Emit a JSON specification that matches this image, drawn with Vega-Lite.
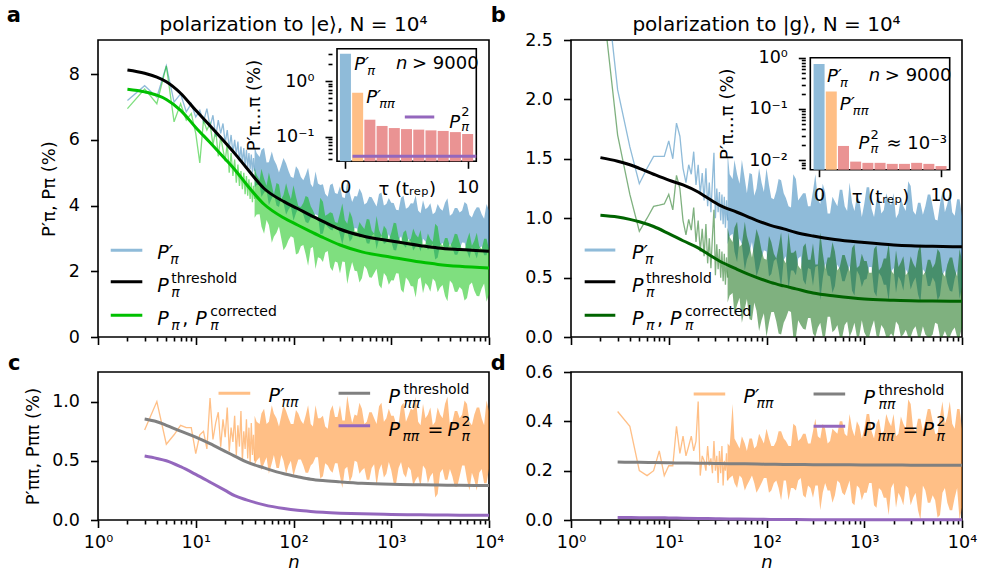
{
"$schema":"https://vega.github.io/schema/vega-lite/v6.json",
"padding":{"left":6,"top":4,"right":5,"bottom":2},
"background":"white",
"config":{
 "font":"DejaVu Sans",
 "view":{"stroke":"black","strokeWidth":1.6},
 "axis":{"grid":false,"domain":false,"tickColor":"black","tickWidth":1.6,"tickSize":7.5,"labelColor":"black","labelFontSize":17.5,"titleColor":"black","titleFontSize":18,"titleFontWeight":"normal","labelOverlap":false,"labelFlush":false,"labelBound":false},
 "axisY":{"labelPadding":11},
 "axisX":{"labelPadding":6},
 "text":{"baseline":"alphabetic","align":"left","color":"black"}
},
"datasets":{
"sparse":[
{"n":2,"aB":7.2,"aG":6.95,"bB":3.4,"bG":3.0},
{"n":3,"aB":7.65,"aG":7.55,"bB":2.08,"bG":1.7,"c":0.76,"d":0.44},
{"n":4,"aB":7.3,"aG":7.1,"bB":1.6,"bG":1.2,"c":1.0,"d":0.38},
{"n":5,"aB":8.25,"aG":8.25,"bB":1.29,"bG":0.89,"c":0.64,"d":0.2},
{"n":6,"aB":7.15,"aG":6.55,"bB":1.42,"bG":1.0,"c":0.72,"d":0.18},
{"n":7,"aB":7.4,"aG":7.1,"bB":1.52,"bG":1.1,"c":0.8,"d":0.2},
{"n":8,"aB":6.85,"aG":6.6,"bB":1.52,"bG":1.11,"c":0.78,"d":0.28},
{"n":9,"aB":7.1,"aG":6.8,"bB":1.52,"bG":1.12,"c":0.78,"d":0.18},
{"n":10,"aB":6.7,"aG":6.2,"bB":1.65,"bG":1.2,"c":0.56,"d":0.22},
{"n":11,"aB":6.9,"aG":5.3,"bB":1.5,"bG":1.07,"c":0.72,"d":0.22},
{"n":12,"aB":6.55,"aG":6.6,"bB":1.8,"bG":1.36,"c":0.75,"d":0.38},
{"n":13,"aB":6.95,"aG":6.3,"bB":1.69,"bG":1.25,"c":0.6,"d":0.27},
{"n":14,"aB":6.4,"aG":6.5,"bB":1.42,"bG":0.98,"c":1.03,"d":0.34},
{"n":15,"aB":6.75,"aG":5.85,"bB":1.3,"bG":0.86,"c":0.68,"d":0.26},
{"n":16,"aB":6.1,"aG":6.3,"bB":1.45,"bG":0.99,"c":0.82,"d":0.3},
{"n":17,"aB":6.6,"aG":5.5,"bB":1.37,"bG":0.9,"c":0.91,"d":0.34},
{"n":18,"aB":6.2,"aG":6.1,"bB":1.56,"bG":1.09,"c":0.62,"d":0.28},
{"n":19,"aB":6.5,"aG":5.7,"bB":1.28,"bG":0.8,"c":0.85,"d":0.32},
{"n":20,"aB":5.9,"aG":5.35,"bB":1.45,"bG":0.98,"c":0.7,"d":0.48},
{"n":21,"aB":6.3,"aG":5.9,"bB":1.2,"bG":0.72,"c":0.95,"d":0.18},
{"n":22,"aB":5.75,"aG":5.0,"bB":1.38,"bG":0.91,"c":0.58,"d":0.26},
{"n":23,"aB":6.15,"aG":5.6,"bB":1.15,"bG":0.68,"c":0.78,"d":0.24},
{"n":24,"aB":5.6,"aG":4.9,"bB":1.42,"bG":0.95,"c":0.66,"d":0.2},
{"n":25,"aB":6.0,"aG":5.4,"bB":1.1,"bG":0.62,"c":0.88,"d":0.3},
{"n":26,"aB":5.55,"aG":4.7,"bB":1.3,"bG":0.83,"c":0.55,"d":0.22},
{"n":27,"aB":5.95,"aG":5.25,"bB":1.05,"bG":0.58,"c":0.8,"d":0.25},
{"n":28,"aB":5.35,"aG":4.6,"bB":1.32,"bG":0.85,"c":0.62,"d":0.19},
{"n":29,"aB":5.8,"aG":5.05,"bB":1.55,"bG":1.07,"c":0.92,"d":0.32},
{"n":30,"aB":5.3,"aG":4.5,"bB":1.0,"bG":0.52,"c":0.5,"d":0.2},
{"n":31,"aB":5.75,"aG":5.0,"bB":1.25,"bG":0.78,"c":0.75,"d":0.26},
{"n":32,"aB":5.2,"aG":4.35,"bB":1.05,"bG":0.57,"c":0.6,"d":0.15},
{"n":33,"aB":5.7,"aG":4.9,"bB":1.22,"bG":0.74,"c":0.85,"d":0.28},
{"n":34,"aB":5.15,"aG":4.3,"bB":0.98,"bG":0.5,"c":0.52,"d":0.19},
{"n":35,"aB":5.6,"aG":4.8,"bB":1.2,"bG":0.72,"c":0.78,"d":0.3},
{"n":36,"aB":5.1,"aG":4.2,"bB":0.95,"bG":0.47,"c":0.48,"d":0.14},
{"n":37,"aB":5.55,"aG":4.7,"bB":1.18,"bG":0.7,"c":0.82,"d":0.24},
{"n":38,"aB":5.0,"aG":4.1,"bB":0.92,"bG":0.44,"c":0.55,"d":0.2},
{"n":39,"aB":5.45,"aG":4.6,"bB":1.15,"bG":0.67,"c":0.72,"d":0.27},
{"n":40,"aB":5.05,"aG":4.2,"bB":0.98,"bG":0.5,"c":0.5,"d":0.16}
],
"band":[
{"n":40,"aBl":4.55,"aBh":5.79,"aGl":3.63,"aGh":5.15,"bBl":0.78,"bBh":1.55,"bGl":0.29,"bGh":0.92,"cl":0.46,"ch":0.88,"dl":0.16,"dh":0.31},
{"n":45,"aBl":4.63,"aBh":5.48,"aGl":3.74,"aGh":4.78,"bBl":0.87,"bBh":1.33,"bGl":0.37,"bGh":0.8,"cl":0.53,"ch":0.81,"dl":0.18,"dh":0.47},
{"n":50,"aBl":4.39,"aBh":5.76,"aGl":3.14,"aGh":4.82,"bBl":0.63,"bBh":1.37,"bGl":0.27,"bGh":0.97,"cl":0.48,"ch":0.94,"dl":0.13,"dh":0.31},
{"n":56,"aBl":4.01,"aBh":5.32,"aGl":3.41,"aGh":5.01,"bBl":0.78,"bBh":1.49,"bGl":0.12,"bGh":0.78,"cl":0.39,"ch":0.83,"dl":0.17,"dh":0.34},
{"n":63,"aBl":4.36,"aBh":5.4,"aGl":3.05,"aGh":4.33,"bBl":0.65,"bBh":1.21,"bGl":0.32,"bGh":0.85,"cl":0.55,"ch":0.9,"dl":0.14,"dh":0.28},
{"n":71,"aBl":3.96,"aBh":5.01,"aGl":3.36,"aGh":4.64,"bBl":0.8,"bBh":1.37,"bGl":0.14,"bGh":0.67,"cl":0.44,"ch":0.79,"dl":0.18,"dh":0.33},
{"n":79,"aBl":4.08,"aBh":5.45,"aGl":2.64,"aGh":4.32,"bBl":0.51,"bBh":1.25,"bGl":0.22,"bGh":0.91,"cl":0.5,"ch":0.97,"dl":0.11,"dh":0.3},
{"n":89,"aBl":3.88,"aBh":5.05,"aGl":2.95,"aGh":4.39,"bBl":0.67,"bBh":1.3,"bGl":0.14,"bGh":0.73,"cl":0.46,"ch":0.86,"dl":0.15,"dh":0.33},
{"n":100,"aBl":3.54,"aBh":4.84,"aGl":3.02,"aGh":4.62,"bBl":0.72,"bBh":1.42,"bGl":0.0,"bGh":0.65,"cl":0.37,"ch":0.81,"dl":0.17,"dh":0.37},
{"n":112,"aBl":3.92,"aBh":5.1,"aGl":2.55,"aGh":3.99,"bBl":0.53,"bBh":1.17,"bGl":0.21,"bGh":0.8,"cl":0.51,"ch":0.9,"dl":0.12,"dh":0.3},
{"n":126,"aBl":3.72,"aBh":4.77,"aGl":2.8,"aGh":4.08,"bBl":0.66,"bBh":1.23,"bGl":0.13,"bGh":0.66,"cl":0.46,"ch":0.81,"dl":0.16,"dh":0.32},
{"n":141,"aBl":3.46,"aBh":5.15,"aGl":2.17,"aGh":4.25,"bBl":0.41,"bBh":1.32,"bGl":0.02,"bGh":0.88,"cl":0.4,"ch":0.97,"dl":0.08,"dh":0.36},
{"n":158,"aBl":3.65,"aBh":4.56,"aGl":2.74,"aGh":3.86,"bBl":0.68,"bBh":1.17,"bGl":0.16,"bGh":0.62,"cl":0.48,"ch":0.79,"dl":0.16,"dh":0.32},
{"n":178,"aBl":3.69,"aBh":4.67,"aGl":2.43,"aGh":3.63,"bBl":0.56,"bBh":1.09,"bGl":0.21,"bGh":0.71,"cl":0.53,"ch":0.86,"dl":0.13,"dh":0.3},
{"n":200,"aBl":3.15,"aBh":4.65,"aGl":2.28,"aGh":4.12,"bBl":0.52,"bBh":1.33,"bGl":0.0,"bGh":0.73,"cl":0.37,"ch":0.88,"dl":0.12,"dh":0.38},
{"n":224,"aBl":3.35,"aBh":4.27,"aGl":2.62,"aGh":3.74,"bBl":0.68,"bBh":1.18,"bGl":0.1,"bGh":0.57,"cl":0.46,"ch":0.77,"dl":0.17,"dh":0.33},
{"n":251,"aBl":3.24,"aBh":4.67,"aGl":2.01,"aGh":3.77,"bBl":0.44,"bBh":1.21,"bGl":0.06,"bGh":0.79,"cl":0.4,"ch":0.97,"dl":0.09,"dh":0.35},
{"n":282,"aBl":3.37,"aBh":4.35,"aGl":2.27,"aGh":3.47,"bBl":0.57,"bBh":1.1,"bGl":0.16,"bGh":0.65,"cl":0.48,"ch":0.87,"dl":0.13,"dh":0.31},
{"n":316,"aBl":2.81,"aBh":4.25,"aGl":2.3,"aGh":4.06,"bBl":0.59,"bBh":1.37,"bGl":0.0,"bGh":0.61,"cl":0.27,"ch":0.84,"dl":0.14,"dh":0.41},
{"n":355,"aBl":3.24,"aBh":4.74,"aGl":1.61,"aGh":3.45,"bBl":0.31,"bBh":1.12,"bGl":0.12,"bGh":0.88,"cl":0.45,"ch":1.05,"dl":0.04,"dh":0.33},
{"n":398,"aBl":3.0,"aBh":4.11,"aGl":2.28,"aGh":3.64,"bBl":0.62,"bBh":1.22,"bGl":0.01,"bGh":0.57,"cl":0.37,"ch":0.82,"dl":0.15,"dh":0.37},
{"n":447,"aBl":3.3,"aBh":4.28,"aGl":2.0,"aGh":3.2,"bBl":0.51,"bBh":1.04,"bGl":0.17,"bGh":0.67,"cl":0.49,"ch":0.88,"dl":0.12,"dh":0.32},
{"n":501,"aBl":3.06,"aBh":4.37,"aGl":1.79,"aGh":3.39,"bBl":0.43,"bBh":1.14,"bGl":0.06,"bGh":0.72,"cl":0.42,"ch":0.94,"dl":0.1,"dh":0.36},
{"n":562,"aBl":2.85,"aBh":4.09,"aGl":2.07,"aGh":3.59,"bBl":0.57,"bBh":1.24,"bGl":0.0,"bGh":0.59,"cl":0.34,"ch":0.83,"dl":0.15,"dh":0.4},
{"n":631,"aBl":3.08,"aBh":4.25,"aGl":1.8,"aGh":3.24,"bBl":0.47,"bBh":1.1,"bGl":0.1,"bGh":0.69,"cl":0.44,"ch":0.91,"dl":0.1,"dh":0.35},
{"n":708,"aBl":2.67,"aBh":3.97,"aGl":2.08,"aGh":3.68,"bBl":0.6,"bBh":1.3,"bGl":0.0,"bGh":0.55,"cl":0.29,"ch":0.81,"dl":0.16,"dh":0.43},
{"n":794,"aBl":3.09,"aBh":4.4,"aGl":1.48,"aGh":3.08,"bBl":0.35,"bBh":1.06,"bGl":0.12,"bGh":0.78,"cl":0.47,"ch":0.99,"dl":0.06,"dh":0.34},
{"n":891,"aBl":2.88,"aBh":4.05,"aGl":1.85,"aGh":3.29,"bBl":0.52,"bBh":1.15,"bGl":0.01,"bGh":0.6,"cl":0.39,"ch":0.86,"dl":0.13,"dh":0.38},
{"n":1000,"aBl":2.91,"aBh":4.09,"aGl":1.73,"aGh":3.17,"bBl":0.48,"bBh":1.12,"bGl":0.04,"bGh":0.64,"cl":0.42,"ch":0.88,"dl":0.11,"dh":0.37},
{"n":1122,"aBl":2.63,"aBh":3.87,"aGl":1.94,"aGh":3.46,"bBl":0.59,"bBh":1.26,"bGl":0.0,"bGh":0.54,"cl":0.31,"ch":0.81,"dl":0.15,"dh":0.43},
{"n":1259,"aBl":3.07,"aBh":4.24,"aGl":1.44,"aGh":2.88,"bBl":0.38,"bBh":1.01,"bGl":0.14,"bGh":0.74,"cl":0.49,"ch":0.96,"dl":0.06,"dh":0.33},
{"n":1413,"aBl":2.72,"aBh":3.9,"aGl":1.81,"aGh":3.25,"bBl":0.54,"bBh":1.18,"bGl":0.0,"bGh":0.56,"cl":0.36,"ch":0.83,"dl":0.13,"dh":0.41},
{"n":1585,"aBl":2.9,"aBh":4.07,"aGl":1.55,"aGh":2.99,"bBl":0.44,"bBh":1.07,"bGl":0.07,"bGh":0.66,"cl":0.42,"ch":0.94,"dl":0.09,"dh":0.36},
{"n":1778,"aBl":2.75,"aBh":4.31,"aGl":1.2,"aGh":3.12,"bBl":0.3,"bBh":1.14,"bGl":0.0,"bGh":0.79,"cl":0.34,"ch":1.04,"dl":0.02,"dh":0.4},
{"n":1995,"aBl":2.6,"aBh":3.77,"aGl":1.82,"aGh":3.26,"bBl":0.58,"bBh":1.21,"bGl":0.0,"bGh":0.53,"cl":0.28,"ch":0.8,"dl":0.15,"dh":0.43},
{"n":2239,"aBl":2.91,"aBh":3.89,"aGl":1.64,"aGh":2.84,"bBl":0.51,"bBh":1.04,"bGl":0.1,"bGh":0.59,"cl":0.43,"ch":0.86,"dl":0.11,"dh":0.35},
{"n":2512,"aBl":2.76,"aBh":4.07,"aGl":1.38,"aGh":2.98,"bBl":0.39,"bBh":1.1,"bGl":0.02,"bGh":0.68,"cl":0.37,"ch":0.95,"dl":0.06,"dh":0.39},
{"n":2818,"aBl":2.36,"aBh":3.8,"aGl":1.69,"aGh":3.45,"bBl":0.53,"bBh":1.31,"bGl":0.0,"bGh":0.55,"cl":0.19,"ch":0.83,"dl":0.13,"dh":0.49},
{"n":3162,"aBl":2.8,"aBh":3.91,"aGl":1.51,"aGh":2.87,"bBl":0.46,"bBh":1.06,"bGl":0.06,"bGh":0.62,"cl":0.4,"ch":0.89,"dl":0.09,"dh":0.37},
{"n":3548,"aBl":2.66,"aBh":4.09,"aGl":1.25,"aGh":3.01,"bBl":0.36,"bBh":1.13,"bGl":0.0,"bGh":0.72,"cl":0.34,"ch":0.98,"dl":0.04,"dh":0.41},
{"n":3981,"aBl":2.84,"aBh":3.69,"aGl":1.72,"aGh":2.76,"bBl":0.57,"bBh":1.03,"bGl":0.09,"bGh":0.52,"cl":0.43,"ch":0.8,"dl":0.14,"dh":0.36},
{"n":4467,"aBl":2.5,"aBh":3.93,"aGl":1.38,"aGh":3.14,"bBl":0.43,"bBh":1.2,"bGl":0.0,"bGh":0.65,"cl":0.28,"ch":0.92,"dl":0.07,"dh":0.45},
{"n":5012,"aBl":2.68,"aBh":3.79,"aGl":1.52,"aGh":2.88,"bBl":0.5,"bBh":1.1,"bGl":0.02,"bGh":0.58,"cl":0.37,"ch":0.86,"dl":0.1,"dh":0.4},
{"n":5623,"aBl":2.87,"aBh":4.11,"aGl":1.11,"aGh":2.63,"bBl":0.31,"bBh":0.98,"bGl":0.11,"bGh":0.74,"cl":0.46,"ch":1.01,"dl":0.01,"dh":0.35},
{"n":6310,"aBl":2.4,"aBh":3.71,"aGl":1.58,"aGh":3.18,"bBl":0.52,"bBh":1.23,"bGl":0.0,"bGh":0.54,"cl":0.25,"ch":0.83,"dl":0.11,"dh":0.48},
{"n":7079,"aBl":2.59,"aBh":3.83,"aGl":1.41,"aGh":2.93,"bBl":0.45,"bBh":1.12,"bGl":0.0,"bGh":0.61,"cl":0.34,"ch":0.89,"dl":0.07,"dh":0.42},
{"n":7943,"aBl":2.7,"aBh":3.94,"aGl":1.24,"aGh":2.76,"bBl":0.38,"bBh":1.05,"bGl":0.05,"bGh":0.67,"cl":0.4,"ch":0.95,"dl":0.04,"dh":0.39},
{"n":8913,"aBl":2.49,"aBh":3.6,"aGl":1.63,"aGh":2.99,"bBl":0.56,"bBh":1.16,"bGl":0.0,"bGh":0.51,"cl":0.31,"ch":0.8,"dl":0.13,"dh":0.45},
{"n":10000,"aBl":2.74,"aBh":3.85,"aGl":1.3,"aGh":2.66,"bBl":0.42,"bBh":1.02,"bGl":0.08,"bGh":0.64,"cl":0.43,"ch":0.92,"dl":0.05,"dh":0.37},
{"n":42,"aBl":4.63,"aBh":5.6,"aGl":3.73,"aGh":4.93,"bBl":0.85,"bBh":1.37,"bGl":0.35,"bGh":0.84,"cl":0.5,"ch":0.83,"dl":0.17,"dh":0.3},
{"n":47,"aBl":4.26,"aBh":5.69,"aGl":3.36,"aGh":5.12,"bBl":0.72,"bBh":1.49,"bGl":0.19,"bGh":0.92,"cl":0.42,"ch":0.9,"dl":0.15,"dh":0.33},
{"n":53,"aBl":4.47,"aBh":5.31,"aGl":3.56,"aGh":4.6,"bBl":0.83,"bBh":1.29,"bGl":0.33,"bGh":0.76,"cl":0.53,"ch":0.81,"dl":0.18,"dh":0.29},
{"n":60,"aBl":4.22,"aBh":5.65,"aGl":2.87,"aGh":4.63,"bBl":0.56,"bBh":1.33,"bGl":0.24,"bGh":0.97,"cl":0.48,"ch":0.97,"dl":0.12,"dh":0.31},
{"n":67,"aBl":4.0,"aBh":5.24,"aGl":3.17,"aGh":4.69,"bBl":0.71,"bBh":1.38,"bGl":0.15,"bGh":0.77,"cl":0.44,"ch":0.86,"dl":0.16,"dh":0.33},
{"n":75,"aBl":4.25,"aBh":5.23,"aGl":3.0,"aGh":4.2,"bBl":0.66,"bBh":1.19,"bGl":0.29,"bGh":0.79,"cl":0.55,"ch":0.88,"dl":0.15,"dh":0.29},
{"n":84,"aBl":3.72,"aBh":5.28,"aGl":2.76,"aGh":4.68,"bBl":0.58,"bBh":1.42,"bGl":0.05,"bGh":0.84,"cl":0.39,"ch":0.92,"dl":0.13,"dh":0.35},
{"n":94,"aBl":3.97,"aBh":4.88,"aGl":3.07,"aGh":4.19,"bBl":0.73,"bBh":1.22,"bGl":0.2,"bGh":0.66,"cl":0.5,"ch":0.81,"dl":0.17,"dh":0.31},
{"n":106,"aBl":3.77,"aBh":5.2,"aGl":2.51,"aGh":4.27,"bBl":0.51,"bBh":1.28,"bGl":0.12,"bGh":0.85,"cl":0.45,"ch":0.93,"dl":0.11,"dh":0.33},
{"n":119,"aBl":3.89,"aBh":4.87,"aGl":2.76,"aGh":3.96,"bBl":0.64,"bBh":1.16,"bGl":0.21,"bGh":0.7,"cl":0.51,"ch":0.84,"dl":0.15,"dh":0.3},
{"n":133,"aBl":3.5,"aBh":4.93,"aGl":2.53,"aGh":4.29,"bBl":0.56,"bBh":1.33,"bGl":0.03,"bGh":0.76,"cl":0.4,"ch":0.88,"dl":0.13,"dh":0.36},
{"n":150,"aBl":3.62,"aBh":4.66,"aGl":2.7,"aGh":3.98,"bBl":0.65,"bBh":1.21,"bGl":0.12,"bGh":0.65,"cl":0.46,"ch":0.81,"dl":0.16,"dh":0.33},
{"n":168,"aBl":3.74,"aBh":5.04,"aGl":2.07,"aGh":3.67,"bBl":0.4,"bBh":1.1,"bGl":0.22,"bGh":0.88,"cl":0.53,"ch":0.97,"dl":0.08,"dh":0.3},
{"n":188,"aBl":3.13,"aBh":4.63,"aGl":2.4,"aGh":4.24,"bBl":0.56,"bBh":1.37,"bGl":0.0,"bGh":0.71,"cl":0.35,"ch":0.86,"dl":0.13,"dh":0.39},
{"n":211,"aBl":3.45,"aBh":4.36,"aGl":2.57,"aGh":3.69,"bBl":0.66,"bBh":1.15,"bGl":0.14,"bGh":0.6,"cl":0.48,"ch":0.79,"dl":0.16,"dh":0.32},
{"n":237,"aBl":3.27,"aBh":4.63,"aGl":2.12,"aGh":3.8,"bBl":0.48,"bBh":1.21,"bGl":0.07,"bGh":0.76,"cl":0.42,"ch":0.92,"dl":0.1,"dh":0.35},
{"n":266,"aBl":3.41,"aBh":4.38,"aGl":2.3,"aGh":3.5,"bBl":0.58,"bBh":1.1,"bGl":0.16,"bGh":0.65,"cl":0.48,"ch":0.87,"dl":0.14,"dh":0.31},
{"n":299,"aBl":3.1,"aBh":4.59,"aGl":1.93,"aGh":3.77,"bBl":0.43,"bBh":1.23,"bGl":0.03,"bGh":0.79,"cl":0.37,"ch":0.97,"dl":0.09,"dh":0.36},
{"n":335,"aBl":3.19,"aBh":4.23,"aGl":2.28,"aGh":3.56,"bBl":0.6,"bBh":1.16,"bGl":0.08,"bGh":0.61,"cl":0.43,"ch":0.84,"dl":0.14,"dh":0.34},
{"n":376,"aBl":2.9,"aBh":4.39,"aGl":1.99,"aGh":3.83,"bBl":0.49,"bBh":1.29,"bGl":0.0,"bGh":0.71,"cl":0.32,"ch":0.92,"dl":0.11,"dh":0.39},
{"n":422,"aBl":3.32,"aBh":4.29,"aGl":2.02,"aGh":3.22,"bBl":0.52,"bBh":1.04,"bGl":0.17,"bGh":0.67,"cl":0.5,"ch":0.89,"dl":0.12,"dh":0.31},
{"n":473,"aBl":3.02,"aBh":4.52,"aGl":1.66,"aGh":3.5,"bBl":0.37,"bBh":1.18,"bGl":0.04,"bGh":0.8,"cl":0.39,"ch":0.99,"dl":0.07,"dh":0.37},
{"n":531,"aBl":3.12,"aBh":4.03,"aGl":2.17,"aGh":3.29,"bBl":0.61,"bBh":1.1,"bGl":0.1,"bGh":0.56,"cl":0.44,"ch":0.81,"dl":0.16,"dh":0.35},
{"n":596,"aBl":2.84,"aBh":4.27,"aGl":1.82,"aGh":3.58,"bBl":0.47,"bBh":1.24,"bGl":0.0,"bGh":0.69,"cl":0.34,"ch":0.91,"dl":0.11,"dh":0.4},
{"n":668,"aBl":3.14,"aBh":4.11,"aGl":1.94,"aGh":3.14,"bBl":0.54,"bBh":1.06,"bGl":0.13,"bGh":0.62,"cl":0.47,"ch":0.86,"dl":0.13,"dh":0.34},
{"n":750,"aBl":2.98,"aBh":4.35,"aGl":1.58,"aGh":3.26,"bBl":0.39,"bBh":1.13,"bGl":0.05,"bGh":0.75,"cl":0.42,"ch":0.96,"dl":0.07,"dh":0.37},
{"n":841,"aBl":2.83,"aBh":4.0,"aGl":1.95,"aGh":3.39,"bBl":0.56,"bBh":1.19,"bGl":0.0,"bGh":0.58,"cl":0.36,"ch":0.83,"dl":0.14,"dh":0.4},
{"n":944,"aBl":3.13,"aBh":4.23,"aGl":1.59,"aGh":2.95,"bBl":0.42,"bBh":1.01,"bGl":0.14,"bGh":0.7,"cl":0.49,"ch":0.94,"dl":0.08,"dh":0.33},
{"n":1059,"aBl":2.65,"aBh":4.08,"aGl":1.72,"aGh":3.48,"bBl":0.49,"bBh":1.26,"bGl":0.0,"bGh":0.64,"cl":0.31,"ch":0.88,"dl":0.11,"dh":0.43},
{"n":1189,"aBl":2.95,"aBh":3.86,"aGl":1.93,"aGh":3.05,"bBl":0.59,"bBh":1.08,"bGl":0.08,"bGh":0.54,"cl":0.44,"ch":0.81,"dl":0.15,"dh":0.36},
{"n":1334,"aBl":2.8,"aBh":4.3,"aGl":1.35,"aGh":3.19,"bBl":0.34,"bBh":1.15,"bGl":0.01,"bGh":0.77,"cl":0.39,"ch":0.99,"dl":0.05,"dh":0.39},
{"n":1496,"aBl":2.98,"aBh":3.95,"aGl":1.72,"aGh":2.92,"bBl":0.51,"bBh":1.04,"bGl":0.1,"bGh":0.59,"cl":0.45,"ch":0.88,"dl":0.12,"dh":0.35},
{"n":1679,"aBl":2.63,"aBh":4.06,"aGl":1.54,"aGh":3.3,"bBl":0.44,"bBh":1.21,"bGl":0.0,"bGh":0.66,"cl":0.29,"ch":0.93,"dl":0.09,"dh":0.43},
{"n":1884,"aBl":2.81,"aBh":3.85,"aGl":1.75,"aGh":3.03,"bBl":0.55,"bBh":1.11,"bGl":0.03,"bGh":0.56,"cl":0.37,"ch":0.83,"dl":0.13,"dh":0.38},
{"n":2113,"aBl":2.99,"aBh":4.16,"aGl":1.33,"aGh":2.77,"bBl":0.37,"bBh":1.0,"bGl":0.13,"bGh":0.73,"cl":0.46,"ch":0.98,"dl":0.05,"dh":0.34},
{"n":2371,"aBl":2.65,"aBh":3.95,"aGl":1.55,"aGh":3.15,"bBl":0.47,"bBh":1.17,"bGl":0.0,"bGh":0.63,"cl":0.31,"ch":0.89,"dl":0.09,"dh":0.42},
{"n":2661,"aBl":2.83,"aBh":3.74,"aGl":1.78,"aGh":2.9,"bBl":0.57,"bBh":1.06,"bGl":0.06,"bGh":0.52,"cl":0.4,"ch":0.8,"dl":0.14,"dh":0.37},
{"n":2985,"aBl":2.42,"aBh":4.05,"aGl":1.36,"aGh":3.36,"bBl":0.4,"bBh":1.27,"bGl":0.0,"bGh":0.68,"cl":0.22,"ch":0.95,"dl":0.06,"dh":0.47},
{"n":3350,"aBl":2.86,"aBh":3.84,"aGl":1.58,"aGh":2.78,"bBl":0.5,"bBh":1.03,"bGl":0.09,"bGh":0.58,"cl":0.43,"ch":0.86,"dl":0.11,"dh":0.36},
{"n":3758,"aBl":2.66,"aBh":4.22,"aGl":1.09,"aGh":3.01,"bBl":0.29,"bBh":1.13,"bGl":0.0,"bGh":0.78,"cl":0.34,"ch":1.04,"dl":0.0,"dh":0.41},
{"n":4217,"aBl":2.71,"aBh":3.75,"aGl":1.63,"aGh":2.91,"bBl":0.54,"bBh":1.1,"bGl":0.02,"bGh":0.55,"cl":0.37,"ch":0.83,"dl":0.12,"dh":0.4},
{"n":4732,"aBl":2.5,"aBh":3.93,"aGl":1.37,"aGh":3.13,"bBl":0.43,"bBh":1.2,"bGl":0.0,"bGh":0.65,"cl":0.28,"ch":0.92,"dl":0.07,"dh":0.45},
{"n":5309,"aBl":2.88,"aBh":3.85,"aGl":1.44,"aGh":2.64,"bBl":0.46,"bBh":0.99,"bGl":0.12,"bGh":0.62,"cl":0.46,"ch":0.89,"dl":0.08,"dh":0.35},
{"n":5957,"aBl":2.61,"aBh":4.04,"aGl":1.19,"aGh":2.95,"bBl":0.35,"bBh":1.12,"bGl":0.0,"bGh":0.71,"cl":0.34,"ch":0.98,"dl":0.02,"dh":0.42},
{"n":6683,"aBl":2.73,"aBh":3.64,"aGl":1.66,"aGh":2.78,"bBl":0.56,"bBh":1.05,"bGl":0.05,"bGh":0.51,"cl":0.4,"ch":0.8,"dl":0.13,"dh":0.39},
{"n":7499,"aBl":2.39,"aBh":3.95,"aGl":1.25,"aGh":3.17,"bBl":0.39,"bBh":1.23,"bGl":0.0,"bGh":0.67,"cl":0.25,"ch":0.95,"dl":0.04,"dh":0.48},
{"n":8414,"aBl":2.76,"aBh":3.74,"aGl":1.48,"aGh":2.68,"bBl":0.49,"bBh":1.02,"bGl":0.08,"bGh":0.57,"cl":0.43,"ch":0.86,"dl":0.09,"dh":0.37},
{"n":9441,"aBl":2.49,"aBh":4.05,"aGl":1.07,"aGh":2.99,"bBl":0.32,"bBh":1.16,"bGl":0.0,"bGh":0.74,"cl":0.31,"ch":1.01,"dl":0.0,"dh":0.45}
],
"curve":[
{"n":2,"aT":8.13,"aC":7.54,"bT":1.51,"bC":1.025},
{"n":3,"aT":8.03,"aC":7.46,"bT":1.48,"bC":1.01,"cT":0.853,"cP":0.54,"dT":0.235,"dP":0.0105},
{"n":4,"aT":7.91,"aC":7.36,"bT":1.45,"bC":0.99,"cT":0.83,"cP":0.52,"dT":0.234,"dP":0.01},
{"n":5,"aT":7.77,"aC":7.23,"bT":1.42,"bC":0.97,"cT":0.8,"cP":0.5,"dT":0.234,"dP":0.0095},
{"n":7,"aT":7.42,"aC":6.9,"bT":1.37,"bC":0.93,"cT":0.75,"cP":0.45,"dT":0.233,"dP":0.009},
{"n":10,"aT":6.9,"aC":6.38,"bT":1.32,"bC":0.87,"cT":0.7,"cP":0.385,"dT":0.232,"dP":0.0085},
{"n":14,"aT":6.43,"aC":5.92,"bT":1.28,"bC":0.81,"cT":0.645,"cP":0.32,"dT":0.231,"dP":0.0075},
{"n":20,"aT":5.92,"aC":5.42,"bT":1.22,"bC":0.75,"cT":0.58,"cP":0.25,"dT":0.23,"dP":0.0065},
{"n":25,"aT":5.59,"aC":5.1,"bT":1.17,"bC":0.7,"cT":0.54,"cP":0.205,"dT":0.23,"dP":0.006},
{"n":33,"aT":5.15,"aC":4.65,"bT":1.11,"bC":0.64,"cT":0.49,"cP":0.17,"dT":0.229,"dP":0.005},
{"n":50,"aT":4.52,"aC":4.04,"bT":1.05,"bC":0.57,"cT":0.44,"cP":0.128,"dT":0.228,"dP":0.004},
{"n":80,"aT":4.12,"aC":3.62,"bT":0.98,"bC":0.5,"cT":0.39,"cP":0.097,"dT":0.227,"dP":0.003},
{"n":110,"aT":3.91,"aC":3.41,"bT":0.94,"bC":0.46,"cT":0.366,"cP":0.082,"dT":0.226,"dP":0.0025},
{"n":150,"aT":3.7,"aC":3.21,"bT":0.91,"bC":0.43,"cT":0.345,"cP":0.072,"dT":0.225,"dP":0.002},
{"n":200,"aT":3.52,"aC":3.03,"bT":0.88,"bC":0.405,"cT":0.333,"cP":0.065,"dT":0.225,"dP":0.0018},
{"n":300,"aT":3.28,"aC":2.8,"bT":0.85,"bC":0.37,"cT":0.322,"cP":0.058,"dT":0.224,"dP":0.0015},
{"n":500,"aT":3.08,"aC":2.59,"bT":0.82,"bC":0.345,"cT":0.31,"cP":0.052,"dT":0.224,"dP":0.0012},
{"n":1000,"aT":2.92,"aC":2.43,"bT":0.795,"bC":0.32,"cT":0.301,"cP":0.047,"dT":0.223,"dP":0.001},
{"n":2000,"aT":2.78,"aC":2.28,"bT":0.775,"bC":0.31,"cT":0.297,"cP":0.044,"dT":0.223,"dP":0.001},
{"n":3000,"aT":2.71,"aC":2.21,"bT":0.768,"bC":0.305,"cT":0.295,"cP":0.042,"dT":0.222,"dP":0.0009},
{"n":5000,"aT":2.66,"aC":2.15,"bT":0.763,"bC":0.302,"cT":0.293,"cP":0.041,"dT":0.222,"dP":0.0009},
{"n":10000,"aT":2.61,"aC":2.1,"bT":0.76,"bC":0.3,"cT":0.292,"cP":0.04,"dT":0.222,"dP":0.0009}
],
"insA":[
{"tau":0,"v":3.09,"k":"p"},{"tau":1,"v":0.617,"k":"pp"},{"tau":2,"v":0.202,"k":"r"},{"tau":3,"v":0.156,"k":"r"},{"tau":4,"v":0.143,"k":"r"},{"tau":5,"v":0.137,"k":"r"},{"tau":6,"v":0.134,"k":"r"},{"tau":7,"v":0.13,"k":"r"},{"tau":8,"v":0.127,"k":"r"},{"tau":9,"v":0.121,"k":"r"},{"tau":10,"v":0.112,"k":"r"}
],
"insB":[
{"tau":0,"v":0.75,"k":"p"},{"tau":1,"v":0.218,"k":"pp"},{"tau":2,"v":0.019,"k":"r"},{"tau":3,"v":0.0094,"k":"r"},{"tau":4,"v":0.0089,"k":"r"},{"tau":5,"v":0.0089,"k":"r"},{"tau":6,"v":0.0085,"k":"r"},{"tau":7,"v":0.0085,"k":"r"},{"tau":8,"v":0.0089,"k":"r"},{"tau":9,"v":0.0085,"k":"r"},{"tau":10,"v":0.0077,"k":"r"}
]
},
"columns":2,
"spacing":{"row":35,"column":82},
"bounds":"flush",
"concat":[
{
"width":391,"height":297,
"layer":[
{"layer":[
{"data":{"name":"band"},"mark":{"type":"area","color":"#1f77b4","opacity":0.5},"encoding":{"x":{"field":"n","type":"quantitative","scale":{"type":"log","domain":[1,10000],"nice":false},"axis":{"values":[1,2,3,4,5,6,7,8,9,10,20,30,40,50,60,70,80,90,100,200,300,400,500,600,700,800,900,1000,2000,3000,4000,5000,6000,7000,8000,9000,10000],"labels":false,"title":null,"tickSize":{"condition":{"test":"indexof([1,10,100,1000,10000],datum.value)>=0","value":7.5},"value":4}}},"y":{"field":"aBl","type":"quantitative","scale":{"domain":[0,9.04],"nice":false,"zero":false},"axis":{"values":[0,2,4,6,8],"title":"P′π, Pπ (%)","titlePadding":10}},"y2":{"field":"aBh"}}},
{"data":{"name":"sparse"},"mark":{"type":"line","color":"#1f77b4","opacity":0.5,"strokeWidth":1.3},"encoding":{"x":{"field":"n","type":"quantitative"},"y":{"field":"aB","type":"quantitative"}}},
{"data":{"name":"band"},"mark":{"type":"area","color":"#00c000","opacity":0.5},"encoding":{"x":{"field":"n","type":"quantitative"},"y":{"field":"aGl","type":"quantitative"},"y2":{"field":"aGh"}}},
{"data":{"name":"sparse"},"mark":{"type":"line","color":"#00c000","opacity":0.5,"strokeWidth":1.3},"encoding":{"x":{"field":"n","type":"quantitative"},"y":{"field":"aG","type":"quantitative"}}},
{"data":{"name":"curve"},"mark":{"type":"line","color":"black","strokeWidth":3,"interpolate":"monotone"},"encoding":{"x":{"field":"n","type":"quantitative"},"y":{"field":"aT","type":"quantitative"}}},
{"data":{"name":"curve"},"mark":{"type":"line","color":"#00c000","strokeWidth":3,"interpolate":"monotone"},"encoding":{"x":{"field":"n","type":"quantitative"},"y":{"field":"aC","type":"quantitative"}}},
{"data":{"values":[{}]},"layer":[
{"mark":{"type":"rule","color":"#1f77b4","opacity":0.5,"strokeWidth":3},"encoding":{"x":{"datum":1.35},"x2":{"datum":2.84},"y":{"datum":2.64}}},
{"mark":{"type":"rule","color":"black","strokeWidth":3},"encoding":{"x":{"datum":1.35},"x2":{"datum":2.84},"y":{"datum":1.68}}},
{"mark":{"type":"rule","color":"#00c000","strokeWidth":3},"encoding":{"x":{"datum":1.35},"x2":{"datum":2.84},"y":{"datum":0.66}}},
{"mark":{"type":"text","text":"P′","fontSize":19,"fontStyle":"italic","dy":9},"encoding":{"x":{"datum":4.04},"y":{"datum":2.64}}},
{"mark":{"type":"text","text":"π","fontSize":14,"fontStyle":"italic","dx":13,"dy":14},"encoding":{"x":{"datum":4.04},"y":{"datum":2.64}}},
{"mark":{"type":"text","text":"P","fontSize":19,"fontStyle":"italic","dy":10},"encoding":{"x":{"datum":4.04},"y":{"datum":1.68}}},
{"mark":{"type":"text","text":"threshold","fontSize":14,"dx":14,"dy":1},"encoding":{"x":{"datum":4.04},"y":{"datum":1.68}}},
{"mark":{"type":"text","text":"π","fontSize":14,"fontStyle":"italic","dx":14,"dy":15},"encoding":{"x":{"datum":4.04},"y":{"datum":1.68}}},
{"mark":{"type":"text","text":"P","fontSize":19,"fontStyle":"italic","dy":10},"encoding":{"x":{"datum":4.04},"y":{"datum":0.66}}},
{"mark":{"type":"text","text":"π","fontSize":14,"fontStyle":"italic","dx":14,"dy":15},"encoding":{"x":{"datum":4.04},"y":{"datum":0.66}}},
{"mark":{"type":"text","text":",","fontSize":19,"dx":25,"dy":10},"encoding":{"x":{"datum":4.04},"y":{"datum":0.66}}},
{"mark":{"type":"text","text":"P","fontSize":19,"fontStyle":"italic","dx":38,"dy":10},"encoding":{"x":{"datum":4.04},"y":{"datum":0.66}}},
{"mark":{"type":"text","text":"corrected","fontSize":14,"dx":53,"dy":1},"encoding":{"x":{"datum":4.04},"y":{"datum":0.66}}},
{"mark":{"type":"text","text":"π","fontSize":14,"fontStyle":"italic","dx":53,"dy":15},"encoding":{"x":{"datum":4.04},"y":{"datum":0.66}}},
{"mark":{"type":"text","text":"polarization to |e⟩, N = 10⁴","fontSize":20,"align":"center"},"encoding":{"x":{"datum":100},"y":{"datum":9.31}}},
{"mark":{"type":"text","text":"a","fontSize":21,"fontWeight":"bold","align":"center","baseline":"middle"},"encoding":{"x":{"datum":0.138},"y":{"datum":9.77}}}
]}
]},
{"data":{"values":[{}]},"layer":[
{"mark":{"type":"rect","fill":"white","stroke":"black","strokeWidth":1.6},"encoding":{
"x":{"datum":-0.69,"type":"quantitative","scale":{"domain":[-0.69,10.71],"range":[234,383.3],"nice":false,"zero":false},"axis":{"orient":"bottom","offset":-175.7,"values":[0,10],"title":"τ (tᵣₑₚ)","titleY":33,"titleBaseline":"alphabetic","labelPadding":10,"tickSize":7,"zindex":1}},
"x2":{"datum":10.71},
"y":{"datum":0.0362,"type":"quantitative","scale":{"type":"log","domain":[0.0362,3.8],"range":[121.3,8.7],"nice":false},"axis":{"orient":"left","offset":-234,"values":[0.04,0.05,0.06,0.07,0.08,0.09,0.1,0.2,0.3,0.4,0.5,0.6,0.7,0.8,0.9,1,2,3],"labelExpr":"datum.value==1?'10⁰':datum.value==0.1?'10⁻¹':''","tickSize":{"condition":{"test":"datum.value==1||datum.value==0.1","value":7},"value":4},"title":"P′π…π (%)","titlePadding":12,"labelPadding":11,"zindex":1}},
"y2":{"datum":3.8}}},
{"data":{"name":"insA"},"mark":{"type":"bar","width":11},"encoding":{"x":{"field":"tau","type":"quantitative"},"y":{"field":"v","type":"quantitative","stack":null},"y2":{"datum":0.0362},"color":{"field":"k","type":"nominal","scale":{"domain":["p","pp","r"],"range":["#8fbbd9","#ffbf86","#ea9393"]},"legend":null}}},
{"mark":{"type":"rule","color":"#9467bd","strokeWidth":3},"encoding":{"x":{"datum":0.58},"x2":{"datum":10.71},"y":{"datum":0.0445}}},
{"mark":{"type":"rule","color":"#9467bd","strokeWidth":3},"encoding":{"x":{"datum":4.86},"x2":{"datum":7.27},"y":{"datum":0.226}}},
{"mark":{"type":"text","text":"P′","fontSize":18,"fontStyle":"italic","dy":8},"encoding":{"x":{"datum":0.72},"y":{"datum":2.19}}},
{"mark":{"type":"text","text":"π","fontSize":13,"fontStyle":"italic","dx":13,"dy":13},"encoding":{"x":{"datum":0.72},"y":{"datum":2.19}}},
{"mark":{"type":"text","text":"n","fontSize":18,"fontStyle":"italic","dy":7},"encoding":{"x":{"datum":4.14},"y":{"datum":2.19}}},
{"mark":{"type":"text","text":"> 9000","fontSize":18,"dx":16,"dy":7},"encoding":{"x":{"datum":4.14},"y":{"datum":2.19}}},
{"mark":{"type":"text","text":"P′","fontSize":18,"fontStyle":"italic","dy":8},"encoding":{"x":{"datum":1.7},"y":{"datum":0.561}}},
{"mark":{"type":"text","text":"ππ","fontSize":13,"fontStyle":"italic","dx":13,"dy":13},"encoding":{"x":{"datum":1.7},"y":{"datum":0.561}}},
{"mark":{"type":"text","text":"P","fontSize":18,"fontStyle":"italic","dy":11},"encoding":{"x":{"datum":8.5},"y":{"datum":0.226}}},
{"mark":{"type":"text","text":"2","fontSize":13,"dx":12,"dy":-1},"encoding":{"x":{"datum":8.5},"y":{"datum":0.226}}},
{"mark":{"type":"text","text":"π","fontSize":13,"fontStyle":"italic","dx":12,"dy":14},"encoding":{"x":{"datum":8.5},"y":{"datum":0.226}}}
]}
],
"resolve":{"scale":{"x":"independent","y":"independent"}}
},
{
"width":391,"height":297,
"layer":[
{"layer":[
{"data":{"name":"band"},"mark":{"type":"area","color":"#1f77b4","opacity":0.5},"encoding":{"x":{"field":"n","type":"quantitative","scale":{"type":"log","domain":[1,10000],"nice":false},"axis":{"values":[1,2,3,4,5,6,7,8,9,10,20,30,40,50,60,70,80,90,100,200,300,400,500,600,700,800,900,1000,2000,3000,4000,5000,6000,7000,8000,9000,10000],"labels":false,"title":null,"tickSize":{"condition":{"test":"indexof([1,10,100,1000,10000],datum.value)>=0","value":7.5},"value":4}}},"y":{"field":"bBl","type":"quantitative","scale":{"domain":[0,2.5],"nice":false,"zero":false},"axis":{"values":[0,0.5,1,1.5,2,2.5],"format":".1f","title":null}},"y2":{"field":"bBh"}}},
{"data":{"name":"sparse"},"mark":{"type":"line","color":"#1f77b4","opacity":0.5,"strokeWidth":1.3,"clip":true},"encoding":{"x":{"field":"n","type":"quantitative"},"y":{"field":"bB","type":"quantitative"}}},
{"data":{"name":"band"},"mark":{"type":"area","color":"#006400","opacity":0.5},"encoding":{"x":{"field":"n","type":"quantitative"},"y":{"field":"bGl","type":"quantitative"},"y2":{"field":"bGh"}}},
{"data":{"name":"sparse"},"mark":{"type":"line","color":"#006400","opacity":0.5,"strokeWidth":1.3,"clip":true},"encoding":{"x":{"field":"n","type":"quantitative"},"y":{"field":"bG","type":"quantitative"}}},
{"data":{"name":"curve"},"mark":{"type":"line","color":"black","strokeWidth":3,"interpolate":"monotone"},"encoding":{"x":{"field":"n","type":"quantitative"},"y":{"field":"bT","type":"quantitative"}}},
{"data":{"name":"curve"},"mark":{"type":"line","color":"#006400","strokeWidth":3,"interpolate":"monotone"},"encoding":{"x":{"field":"n","type":"quantitative"},"y":{"field":"bC","type":"quantitative"}}},
{"data":{"values":[{}]},"layer":[
{"mark":{"type":"rule","color":"#1f77b4","opacity":0.5,"strokeWidth":3},"encoding":{"x":{"datum":1.38},"x2":{"datum":2.84},"y":{"datum":0.732}}},
{"mark":{"type":"rule","color":"black","strokeWidth":3},"encoding":{"x":{"datum":1.38},"x2":{"datum":2.84},"y":{"datum":0.465}}},
{"mark":{"type":"rule","color":"#006400","strokeWidth":3},"encoding":{"x":{"datum":1.38},"x2":{"datum":2.84},"y":{"datum":0.183}}},
{"mark":{"type":"text","text":"P′","fontSize":19,"fontStyle":"italic","dy":9},"encoding":{"x":{"datum":4.2},"y":{"datum":0.732}}},
{"mark":{"type":"text","text":"π","fontSize":14,"fontStyle":"italic","dx":13,"dy":14},"encoding":{"x":{"datum":4.2},"y":{"datum":0.732}}},
{"mark":{"type":"text","text":"P","fontSize":19,"fontStyle":"italic","dy":10},"encoding":{"x":{"datum":4.2},"y":{"datum":0.465}}},
{"mark":{"type":"text","text":"threshold","fontSize":14,"dx":14,"dy":1},"encoding":{"x":{"datum":4.2},"y":{"datum":0.465}}},
{"mark":{"type":"text","text":"π","fontSize":14,"fontStyle":"italic","dx":14,"dy":15},"encoding":{"x":{"datum":4.2},"y":{"datum":0.465}}},
{"mark":{"type":"text","text":"P","fontSize":19,"fontStyle":"italic","dy":10},"encoding":{"x":{"datum":4.2},"y":{"datum":0.183}}},
{"mark":{"type":"text","text":"π","fontSize":14,"fontStyle":"italic","dx":14,"dy":15},"encoding":{"x":{"datum":4.2},"y":{"datum":0.183}}},
{"mark":{"type":"text","text":",","fontSize":19,"dx":25,"dy":10},"encoding":{"x":{"datum":4.2},"y":{"datum":0.183}}},
{"mark":{"type":"text","text":"P","fontSize":19,"fontStyle":"italic","dx":38,"dy":10},"encoding":{"x":{"datum":4.2},"y":{"datum":0.183}}},
{"mark":{"type":"text","text":"corrected","fontSize":14,"dx":53,"dy":1},"encoding":{"x":{"datum":4.2},"y":{"datum":0.183}}},
{"mark":{"type":"text","text":"π","fontSize":14,"fontStyle":"italic","dx":53,"dy":15},"encoding":{"x":{"datum":4.2},"y":{"datum":0.183}}},
{"mark":{"type":"text","text":"polarization to |g⟩, N = 10⁴","fontSize":20,"align":"center"},"encoding":{"x":{"datum":100},"y":{"datum":2.576}}},
{"mark":{"type":"text","text":"b","fontSize":21,"fontWeight":"bold","align":"center","baseline":"middle"},"encoding":{"x":{"datum":0.18},"y":{"datum":2.7}}}
]}
]},
{"data":{"values":[{}]},"layer":[
{"mark":{"type":"rect","fill":"white","stroke":"black","strokeWidth":1.6},"encoding":{
"x":{"datum":-0.72,"type":"quantitative","scale":{"domain":[-0.72,10.71],"range":[234.3,383.7],"nice":false,"zero":false},"axis":{"orient":"bottom","offset":-167.3,"values":[0,10],"title":"τ (tᵣₑₚ)","titleY":33,"titleBaseline":"alphabetic","labelPadding":10,"tickSize":7,"zindex":1}},
"x2":{"datum":10.71},
"y":{"datum":0.00654,"type":"quantitative","scale":{"type":"log","domain":[0.00654,1],"range":[129.7,17.7],"nice":false},"axis":{"orient":"left","offset":-234.3,"values":[0.007,0.008,0.009,0.01,0.02,0.03,0.04,0.05,0.06,0.07,0.08,0.09,0.1,0.2,0.3,0.4,0.5,0.6,0.7,0.8,0.9,1],"labelExpr":"datum.value==1?'10⁰':datum.value==0.1?'10⁻¹':datum.value==0.01?'10⁻²':''","tickSize":{"condition":{"test":"datum.value==1||datum.value==0.1||datum.value==0.01","value":7},"value":4},"title":"P′π…π (%)","titlePadding":12,"labelPadding":11,"zindex":1}},
"y2":{"datum":1}}},
{"data":{"name":"insB"},"mark":{"type":"bar","width":11},"encoding":{"x":{"field":"tau","type":"quantitative"},"y":{"field":"v","type":"quantitative","stack":null},"y2":{"datum":0.00654},"color":{"field":"k","type":"nominal","scale":{"domain":["p","pp","r"],"range":["#8fbbd9","#ffbf86","#ea9393"]},"legend":null}}},
{"mark":{"type":"text","text":"P′","fontSize":18,"fontStyle":"italic","dy":8},"encoding":{"x":{"datum":0.64},"y":{"datum":0.49}}},
{"mark":{"type":"text","text":"π","fontSize":13,"fontStyle":"italic","dx":13,"dy":13},"encoding":{"x":{"datum":0.64},"y":{"datum":0.49}}},
{"mark":{"type":"text","text":"n","fontSize":18,"fontStyle":"italic","dy":7},"encoding":{"x":{"datum":4.08},"y":{"datum":0.49}}},
{"mark":{"type":"text","text":"> 9000","fontSize":18,"dx":16,"dy":7},"encoding":{"x":{"datum":4.08},"y":{"datum":0.49}}},
{"mark":{"type":"text","text":"P′","fontSize":18,"fontStyle":"italic","dy":8},"encoding":{"x":{"datum":1.7},"y":{"datum":0.139}}},
{"mark":{"type":"text","text":"ππ","fontSize":13,"fontStyle":"italic","dx":13,"dy":13},"encoding":{"x":{"datum":1.7},"y":{"datum":0.139}}},
{"mark":{"type":"text","text":"P","fontSize":18,"fontStyle":"italic","dy":8},"encoding":{"x":{"datum":3.23},"y":{"datum":0.024}}},
{"mark":{"type":"text","text":"2","fontSize":13,"dx":12,"dy":-2},"encoding":{"x":{"datum":3.23},"y":{"datum":0.024}}},
{"mark":{"type":"text","text":"π","fontSize":13,"fontStyle":"italic","dx":12,"dy":12},"encoding":{"x":{"datum":3.23},"y":{"datum":0.024}}},
{"mark":{"type":"text","text":"≈ 10⁻³","fontSize":18,"dx":28,"dy":8},"encoding":{"x":{"datum":3.23},"y":{"datum":0.024}}}
]}
],
"resolve":{"scale":{"x":"independent","y":"independent"}}
},
{
"width":391,"height":148,
"layer":[
{"data":{"name":"band"},"mark":{"type":"area","color":"#ff7f0e","opacity":0.5},"encoding":{"x":{"field":"n","type":"quantitative","scale":{"type":"log","domain":[1,10000],"nice":false},"axis":{"values":[1,2,3,4,5,6,7,8,9,10,20,30,40,50,60,70,80,90,100,200,300,400,500,600,700,800,900,1000,2000,3000,4000,5000,6000,7000,8000,9000,10000],"labelExpr":"datum.value==1?'10⁰':datum.value==10?'10¹':datum.value==100?'10²':datum.value==1000?'10³':datum.value==10000?'10⁴':''","title":"n","titleFontStyle":"italic","titlePadding":2,"tickSize":{"condition":{"test":"indexof([1,10,100,1000,10000],datum.value)>=0","value":7.5},"value":4}}},"y":{"field":"cl","type":"quantitative","scale":{"domain":[0,1.25],"nice":false,"zero":false},"axis":{"values":[0,0.5,1],"format":".1f","title":"P′ππ, Pππ (%)","titlePadding":9}},"y2":{"field":"ch"}}},
{"data":{"name":"sparse"},"mark":{"type":"line","color":"#ff7f0e","opacity":0.5,"strokeWidth":1.3},"encoding":{"x":{"field":"n","type":"quantitative"},"y":{"field":"c","type":"quantitative"}}},
{"data":{"name":"curve"},"mark":{"type":"line","color":"#808080","strokeWidth":3,"interpolate":"monotone"},"encoding":{"x":{"field":"n","type":"quantitative"},"y":{"field":"cT","type":"quantitative"}}},
{"data":{"name":"curve"},"mark":{"type":"line","color":"#9467bd","strokeWidth":3,"interpolate":"monotone"},"encoding":{"x":{"field":"n","type":"quantitative"},"y":{"field":"cP","type":"quantitative"}}},
{"data":{"values":[{}]},"layer":[
{"mark":{"type":"rule","color":"#ff7f0e","opacity":0.5,"strokeWidth":3},"encoding":{"x":{"datum":17.1},"x2":{"datum":36.1},"y":{"datum":1.07}}},
{"mark":{"type":"rule","color":"#808080","strokeWidth":3},"encoding":{"x":{"datum":289},"x2":{"datum":608},"y":{"datum":1.07}}},
{"mark":{"type":"rule","color":"#9467bd","strokeWidth":3},"encoding":{"x":{"datum":289},"x2":{"datum":608},"y":{"datum":0.796}}},
{"mark":{"type":"text","text":"P′","fontSize":19,"fontStyle":"italic","dy":9},"encoding":{"x":{"datum":55.5},"y":{"datum":1.07}}},
{"mark":{"type":"text","text":"ππ","fontSize":14,"fontStyle":"italic","dx":13,"dy":14},"encoding":{"x":{"datum":55.5},"y":{"datum":1.07}}},
{"mark":{"type":"text","text":"P","fontSize":19,"fontStyle":"italic","dy":10},"encoding":{"x":{"datum":936},"y":{"datum":1.07}}},
{"mark":{"type":"text","text":"threshold","fontSize":14,"dx":15,"dy":1},"encoding":{"x":{"datum":936},"y":{"datum":1.07}}},
{"mark":{"type":"text","text":"ππ","fontSize":14,"fontStyle":"italic","dx":15,"dy":15},"encoding":{"x":{"datum":936},"y":{"datum":1.07}}},
{"mark":{"type":"text","text":"P","fontSize":19,"fontStyle":"italic","dy":10},"encoding":{"x":{"datum":936},"y":{"datum":0.796}}},
{"mark":{"type":"text","text":"ππ","fontSize":14,"fontStyle":"italic","dx":14,"dy":15},"encoding":{"x":{"datum":936},"y":{"datum":0.796}}},
{"mark":{"type":"text","text":"=","fontSize":19,"dx":39,"dy":10},"encoding":{"x":{"datum":936},"y":{"datum":0.796}}},
{"mark":{"type":"text","text":"P","fontSize":19,"fontStyle":"italic","dx":59,"dy":10},"encoding":{"x":{"datum":936},"y":{"datum":0.796}}},
{"mark":{"type":"text","text":"2","fontSize":14,"dx":73,"dy":0},"encoding":{"x":{"datum":936},"y":{"datum":0.796}}},
{"mark":{"type":"text","text":"π","fontSize":14,"fontStyle":"italic","dx":73,"dy":15},"encoding":{"x":{"datum":936},"y":{"datum":0.796}}},
{"mark":{"type":"text","text":"c","fontSize":21,"fontWeight":"bold","align":"center","baseline":"middle"},"encoding":{"x":{"datum":0.139},"y":{"datum":1.318}}}
]}
]
},
{
"width":391,"height":148,
"layer":[
{"data":{"name":"band"},"mark":{"type":"area","color":"#ff7f0e","opacity":0.5},"encoding":{"x":{"field":"n","type":"quantitative","scale":{"type":"log","domain":[1,10000],"nice":false},"axis":{"values":[1,2,3,4,5,6,7,8,9,10,20,30,40,50,60,70,80,90,100,200,300,400,500,600,700,800,900,1000,2000,3000,4000,5000,6000,7000,8000,9000,10000],"labelExpr":"datum.value==1?'10⁰':datum.value==10?'10¹':datum.value==100?'10²':datum.value==1000?'10³':datum.value==10000?'10⁴':''","title":"n","titleFontStyle":"italic","titlePadding":2,"tickSize":{"condition":{"test":"indexof([1,10,100,1000,10000],datum.value)>=0","value":7.5},"value":4}}},"y":{"field":"dl","type":"quantitative","scale":{"domain":[0,0.6],"nice":false,"zero":false},"axis":{"values":[0,0.2,0.4,0.6],"format":".1f","title":null}},"y2":{"field":"dh"}}},
{"data":{"name":"sparse"},"mark":{"type":"line","color":"#ff7f0e","opacity":0.5,"strokeWidth":1.3},"encoding":{"x":{"field":"n","type":"quantitative"},"y":{"field":"d","type":"quantitative"}}},
{"data":{"name":"curve"},"mark":{"type":"line","color":"#808080","strokeWidth":3,"interpolate":"monotone"},"encoding":{"x":{"field":"n","type":"quantitative"},"y":{"field":"dT","type":"quantitative"}}},
{"data":{"name":"curve"},"mark":{"type":"line","color":"#9467bd","strokeWidth":3,"interpolate":"monotone"},"encoding":{"x":{"field":"n","type":"quantitative"},"y":{"field":"dP","type":"quantitative"}}},
{"data":{"values":[{}]},"layer":[
{"mark":{"type":"rule","color":"#ff7f0e","opacity":0.5,"strokeWidth":3},"encoding":{"x":{"datum":18},"x2":{"datum":37.8},"y":{"datum":0.511}}},
{"mark":{"type":"rule","color":"#808080","strokeWidth":3},"encoding":{"x":{"datum":303},"x2":{"datum":638},"y":{"datum":0.511}}},
{"mark":{"type":"rule","color":"#9467bd","strokeWidth":3},"encoding":{"x":{"datum":303},"x2":{"datum":638},"y":{"datum":0.38}}},
{"mark":{"type":"text","text":"P′","fontSize":19,"fontStyle":"italic","dy":9},"encoding":{"x":{"datum":58.3},"y":{"datum":0.511}}},
{"mark":{"type":"text","text":"ππ","fontSize":14,"fontStyle":"italic","dx":13,"dy":14},"encoding":{"x":{"datum":58.3},"y":{"datum":0.511}}},
{"mark":{"type":"text","text":"P","fontSize":19,"fontStyle":"italic","dy":10},"encoding":{"x":{"datum":984},"y":{"datum":0.511}}},
{"mark":{"type":"text","text":"threshold","fontSize":14,"dx":15,"dy":1},"encoding":{"x":{"datum":984},"y":{"datum":0.511}}},
{"mark":{"type":"text","text":"ππ","fontSize":14,"fontStyle":"italic","dx":15,"dy":15},"encoding":{"x":{"datum":984},"y":{"datum":0.511}}},
{"mark":{"type":"text","text":"P","fontSize":19,"fontStyle":"italic","dy":10},"encoding":{"x":{"datum":984},"y":{"datum":0.38}}},
{"mark":{"type":"text","text":"ππ","fontSize":14,"fontStyle":"italic","dx":14,"dy":15},"encoding":{"x":{"datum":984},"y":{"datum":0.38}}},
{"mark":{"type":"text","text":"=","fontSize":19,"dx":39,"dy":10},"encoding":{"x":{"datum":984},"y":{"datum":0.38}}},
{"mark":{"type":"text","text":"P","fontSize":19,"fontStyle":"italic","dx":59,"dy":10},"encoding":{"x":{"datum":984},"y":{"datum":0.38}}},
{"mark":{"type":"text","text":"2","fontSize":14,"dx":73,"dy":0},"encoding":{"x":{"datum":984},"y":{"datum":0.38}}},
{"mark":{"type":"text","text":"π","fontSize":14,"fontStyle":"italic","dx":73,"dy":15},"encoding":{"x":{"datum":984},"y":{"datum":0.38}}},
{"mark":{"type":"text","text":"d","fontSize":21,"fontWeight":"bold","align":"center","baseline":"middle"},"encoding":{"x":{"datum":0.18},"y":{"datum":0.633}}}
]}
]
}
]
}
